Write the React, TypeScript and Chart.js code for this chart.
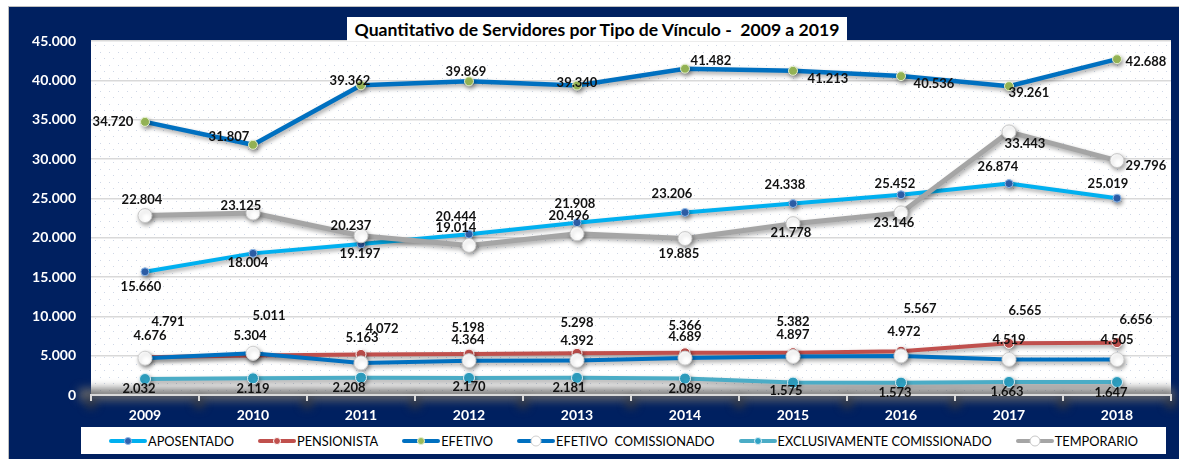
import React, { useEffect, useRef } from 'react';
import { Chart, registerables } from 'chart.js';
Chart.register(...registerables);

// ---------- data ----------
const years = ['2009', '2010', '2011', '2012', '2013', '2014', '2015', '2016', '2017', '2018'];
const aposentado = [15660, 18004, 19197, 20444, 21908, 23206, 24338, 25452, 26874, 25019];
const pensionista = [4791, 5011, 5163, 5198, 5298, 5366, 5382, 5567, 6565, 6656];
const efetivo = [34720, 31807, 39362, 39869, 39340, 41482, 41213, 40536, 39261, 42688];
const efetivoComissionado = [4676, 5304, 4072, 4364, 4392, 4689, 4897, 4972, 4519, 4505];
const exclusivamenteComissionado = [2032, 2119, 2208, 2170, 2181, 2089, 1575, 1573, 1663, 1647];
const temporario = [22804, 23125, 20237, 19014, 20496, 19885, 21778, 23146, 33443, 29796];
const yTicksMax = 45000;
const yTickStep = 5000;

// ---------- data-label placement (offsets from each point, in px) ----------
const aposentadoLabelPos = [[-4, 15], [-5, 9], [-1, 10], [-13, -17], [-2, -19], [-13, -19], [-8, -19], [-6, -11], [-11, -17], [-9, -14]];
const pensionistaLabelPos = [[23, -35], [16, -40], [1, -17], [-1, -26], [0, -31], [0, -27], [0, -31], [19, -42], [16, -33], [19, -23]];
const efetivoLabelPos = [[-32, 0], [-24, -8], [-11, -5], [-3, -10], [0, -3], [26, -8], [35, 8], [33, 8], [20, 7], [29, 3]];
const efetivoComLabelPos = [[5, -22], [-3, -17], [21, -34], [-1, -21], [0, -20], [0, -21], [0, -22], [3, -24], [0, -20], [0, -20]];
const exclusivoLabelPos = [[-6, 10], [0, 10], [-12, 10], [0, 9], [-8, 10], [0, 10], [-7, 8], [-6, 10], [-2, 10], [-6, 11]];
const temporarioLabelPos = [[-3, -16], [-12, -7], [-10, -10], [-13, -18], [-8, -18], [-6, 15], [-2, 9], [-7, 10], [16, 12], [29, 5]];

const FONT = 'Lato, "Open Sans", sans-serif';
const NAVY = '#002060';

const fmt = (v: number) => String(Math.round(v)).replace(/\B(?=(\d{3})+(?!\d))/g, '.');

const series = [
  { label: 'APOSENTADO', data: aposentado, line: '#00B0F0', marker: '#2F62AE', mBorder: '#8FB8E8', radius: 4, width: 4, pos: aposentadoLabelPos },
  { label: 'PENSIONISTA', data: pensionista, line: '#C0504D', marker: '#C0504D', mBorder: '#FFFFFF', radius: 5, width: 4, pos: pensionistaLabelPos },
  { label: 'EFETIVO', data: efetivo, line: '#0070C0', marker: '#9BBB59', mBorder: '#E6F0D0', radius: 4.5, width: 4.5, pos: efetivoLabelPos },
  { label: 'EFETIVO  COMISSIONADO', data: efetivoComissionado, line: '#0070C0', marker: '#FFFFFF', mBorder: '#D0D0D0', radius: 7, width: 4, pos: efetivoComLabelPos },
  { label: 'EXCLUSIVAMENTE COMISSIONADO', data: exclusivamenteComissionado, line: '#4BACC6', marker: '#2FA2C4', mBorder: '#DDF0F7', radius: 5.5, width: 4, pos: exclusivoLabelPos },
  { label: 'TEMPORARIO', data: temporario, line: '#A5A5A5', marker: '#FFFFFF', mBorder: '#C8C8C8', radius: 7, width: 5, pos: temporarioLabelPos },
];

export default function App() {
  const ref = useRef<HTMLCanvasElement>(null);

  useEffect(() => {
    const canvas = ref.current!;

    const bgPlugin = {
      id: 'bgPlot',
      beforeDraw(chart: any) {
        const { ctx, chartArea: a } = chart;
        ctx.save();
        ctx.fillStyle = '#ffffff';
        ctx.fillRect(a.left, a.top, a.right - a.left, a.bottom - a.top);
        ctx.fillStyle = '#cfd7e6';
        let r = 0;
        for (let y = a.top + 4; y < a.bottom - 2; y += 6.5, r++) {
          for (let x = a.left + 4 + (r % 2) * 4.5; x < a.right - 2; x += 9) {
            ctx.fillRect(Math.round(x), Math.round(y), 1, 1);
          }
        }
        // 3D-like shadow band around the category axis
        ctx.filter = 'blur(4px)';
        ctx.fillStyle = 'rgba(105,105,105,0.85)';
        ctx.fillRect(a.left - 12, a.bottom - 7, a.right - a.left + 16, 13);
        const xs = chart.scales.x;
        ctx.fillStyle = 'rgba(60,60,60,0.75)';
        for (let i = 0; i <= years.length; i++) {
          const px = xs.getPixelForValue(i - 0.5);
          ctx.beginPath();
          ctx.arc(px, a.bottom + 8, 6, 0, Math.PI * 2);
          ctx.fill();
        }
        ctx.restore();
      },
    };

    const shadowPlugin = {
      id: 'lineShadow',
      beforeDatasetDraw(chart: any) {
        const c = chart.ctx;
        c.save();
        c.shadowColor = 'rgba(0,0,0,0.35)';
        c.shadowBlur = 4;
        c.shadowOffsetX = 1.5;
        c.shadowOffsetY = 2.5;
      },
      afterDatasetDraw(chart: any) {
        chart.ctx.restore();
      },
    };

    const labelPlugin = {
      id: 'dataLabels',
      afterDatasetsDraw(chart: any) {
        const ctx = chart.ctx;
        ctx.save();
        ctx.font = `bold 13px ${FONT}`;
        ctx.fillStyle = '#111111';
        ctx.textAlign = 'center';
        ctx.textBaseline = 'middle';
        chart.data.datasets.forEach((ds: any, i: number) => {
          const meta = chart.getDatasetMeta(i);
          meta.data.forEach((pt: any, j: number) => {
            const [dx, dy] = ds.labelPos[j];
            ctx.fillText(fmt(ds.data[j]), pt.x + dx, pt.y + dy);
          });
        });
        ctx.restore();
      },
    };

    const chart = new Chart(canvas, {
      type: 'line',
      data: {
        labels: years,
        datasets: series.map((s, i) => ({
          label: s.label,
          data: s.data,
          borderColor: s.line,
          backgroundColor: s.line,
          borderWidth: s.width,
          pointBackgroundColor: s.marker,
          pointBorderColor: s.mBorder,
          pointBorderWidth: 1,
          pointRadius: s.radius,
          tension: 0,
          order: -i,
          clip: false,
          labelPos: s.pos,
        })) as any,
      },
      options: {
        animation: false,
        responsive: false,
        devicePixelRatio: 1,
        layout: { padding: { left: 0, right: 3, top: 41, bottom: 34 } },
        plugins: {
          legend: { display: false },
          tooltip: { enabled: false },
          title: { display: false },
        },
        scales: {
          x: {
            offset: true,
            grid: { offset: true, drawOnChartArea: false, drawTicks: true, tickLength: 6, color: '#d9d9d9', lineWidth: 2 },
            border: { display: true, color: '#d9d9d9', width: 2 },
            ticks: { color: '#ffffff', font: { family: FONT, size: 14, weight: 'bold' }, padding: 6 },
            afterFit: (s: any) => { s.height = 30; },
          },
          y: {
            min: 0,
            max: yTicksMax,
            ticks: {
              stepSize: yTickStep,
              color: '#ffffff',
              font: { family: FONT, size: 14, weight: 'bold' },
              padding: 15,
              callback: (v: any) => fmt(Number(v)),
            },
            grid: { color: '#d9d9d9', lineWidth: 1.5, drawTicks: false },
            border: { display: false },
            afterFit: (s: any) => { s.width = 91; },
          },
        },
      } as any,
      plugins: [bgPlugin, shadowPlugin, labelPlugin],
    });

    return () => chart.destroy();
  }, []);

  return (
    <div style={{ position: 'fixed', left: 0, top: 0, width: 1179, height: 459, background: '#ffffff', overflow: 'hidden', fontFamily: FONT }}>
      <div style={{ position: 'absolute', left: 8, top: 6, right: 0, bottom: 0, background: NAVY, borderLeft: '1px solid #bfbfbf', borderTop: '1px solid #bfbfbf' }} />
      <canvas ref={ref} width={1179} height={459} style={{ position: 'absolute', left: 0, top: 0 }} />
      <div style={{ position: 'absolute', left: 347, top: 17, width: 500, height: 24, background: '#ffffff', color: '#000', fontWeight: 700, fontSize: 17.6, lineHeight: '26px', textAlign: 'center', whiteSpace: 'pre', overflow: 'hidden' }}>
        {'Quantitativo de Servidores por Tipo de Vínculo -  2009 a 2019'}
      </div>
      <div style={{ position: 'absolute', left: 81, top: 427, width: 1085, height: 27, background: '#ffffff', display: 'flex', alignItems: 'center', justifyContent: 'center', gap: 24 }}>
        {series.map((s) => (
          <div key={s.label} style={{ display: 'flex', alignItems: 'center' }}>
            <svg width={38} height={12} style={{ display: 'block' }}>
              <line x1={2} y1={6} x2={36} y2={6} stroke={s.line} strokeWidth={4} strokeLinecap="round" />
              <circle cx={19} cy={6} r={s.radius > 6 ? 5 : 3.5} fill={s.marker} stroke={s.mBorder} strokeWidth={1} />
            </svg>
            <span style={{ fontSize: 12.8, color: '#000', marginLeft: 1, whiteSpace: 'pre' }}>{s.label}</span>
          </div>
        ))}
      </div>
    </div>
  );
}
